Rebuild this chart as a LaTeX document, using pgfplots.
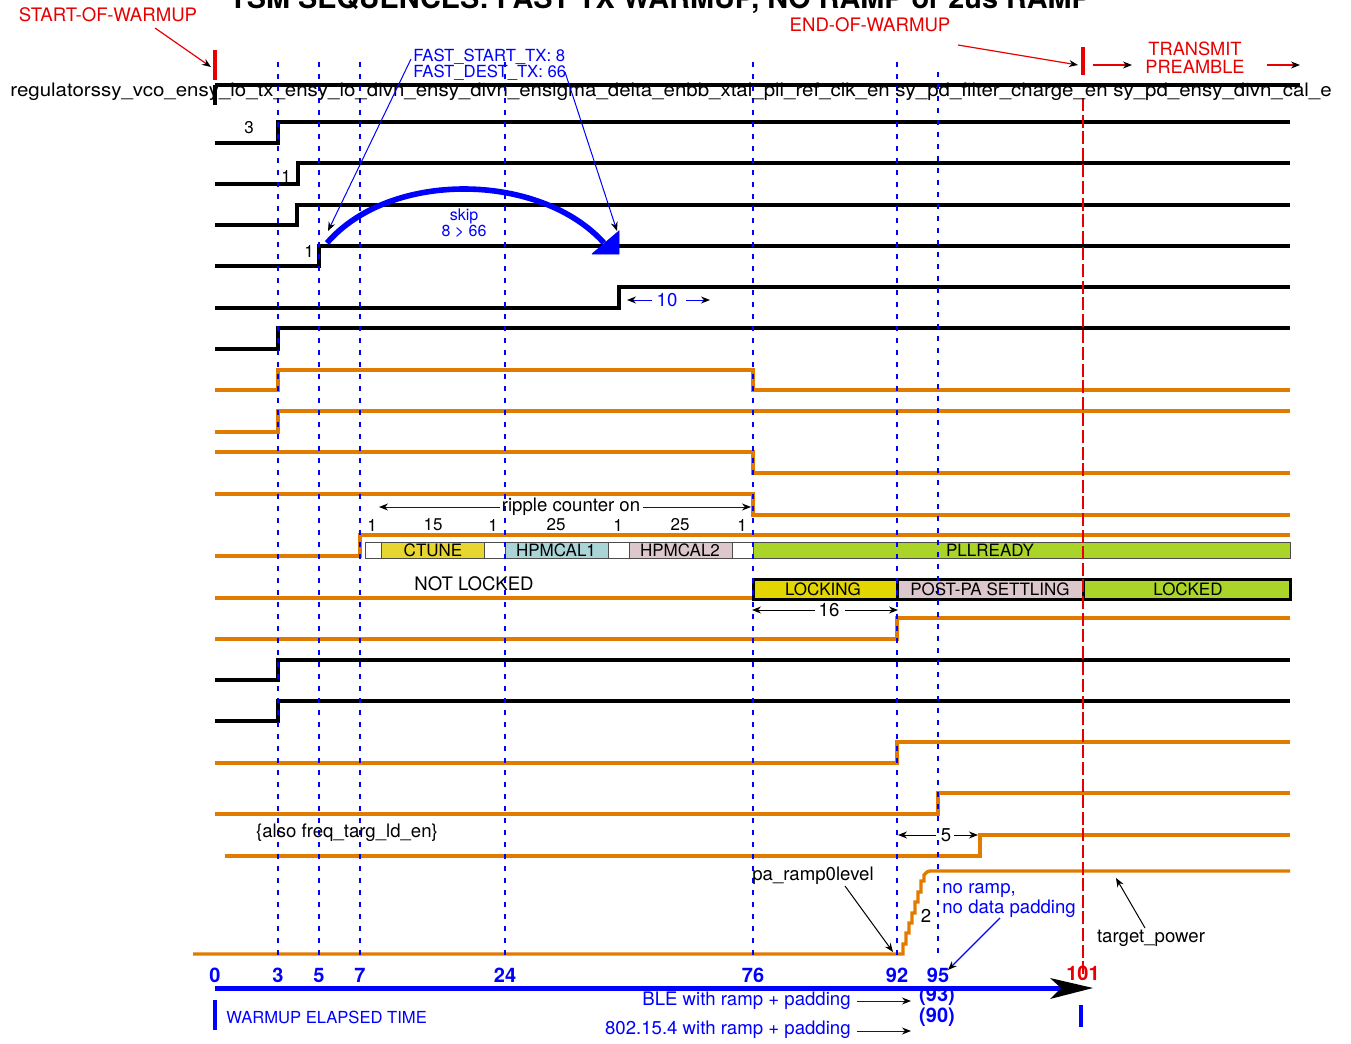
\documentclass[border=0pt]{standalone}
\usepackage{fontspec}
\setmainfont{TeX Gyre Heros}
\usepackage{pgfplots}
\pgfplotsset{compat=1.18}
\usetikzlibrary{arrows.meta}
\definecolor{sig}{RGB}{224,123,0}
\definecolor{bl}{RGB}{0,0,255}
\definecolor{rd}{RGB}{232,0,0}
\definecolor{ctune}{RGB}{232,214,48}
\definecolor{hpa}{RGB}{170,212,214}
\definecolor{hpb}{RGB}{220,200,204}
\definecolor{pll}{RGB}{170,212,40}
\definecolor{lockg}{RGB}{226,213,0}
\begin{document}
\begin{tikzpicture}[font=\fontsize{9.3pt}{11pt}\selectfont,
  ah/.style={-{Stealth[black,length=4.5pt,width=3.5pt]}},
  sm/.style={font=\fontsize{8.5pt}{10pt}\selectfont},
  tb/.style={font=\fontsize{10pt}{12pt}\selectfont\bfseries}]
\begin{axis}[scale only axis, width=675.5pt, height=522pt,
  xmin=0, xmax=1351, ymin=0, ymax=1044, y dir=reverse,
  hide axis, clip=false,
  blk/.style={black, line width=2pt},
  org/.style={sig, line width=1.7pt},
  vdot/.style={bl, line width=1.2pt, dash pattern=on 2.5pt off 3.5pt},
  bx/.style={draw=black!70, line width=0.5pt}]

% top line
\addplot[blk] coordinates {(215,85) (1300,85)};
\addplot[blk] coordinates {(215,85) (215,105)};
% black / orange signal rows
\addplot[blk] coordinates {(215,143) (278,143) (278,122) (1290,122)};
\addplot[blk] coordinates {(215,184) (298,184) (298,163) (1290,163)};
\addplot[blk] coordinates {(215,225) (297,225) (297,205) (1290,205)};
\addplot[blk] coordinates {(215,266) (319,266) (319,246) (1290,246)};
\addplot[blk] coordinates {(215,308) (619,308) (619,287) (1290,287)};
\addplot[blk] coordinates {(215,349) (278,349) (278,328) (1290,328)};
\addplot[org] coordinates {(215,390) (278,390) (278,370) (753,370) (753,390) (1290,390)};
\addplot[org] coordinates {(215,432) (278,432) (278,411) (1290,411)};
\addplot[org] coordinates {(215,452) (753,452) (753,473) (1290,473)};
\addplot[org] coordinates {(215,494) (753,494) (753,515) (1290,515)};
\addplot[org] coordinates {(215,556) (360,556) (360,535) (1290,535)};
\addplot[org] coordinates {(215,598) (753,598)};
\addplot[org] coordinates {(215,639) (897,639) (897,618) (1290,618)};
\addplot[blk] coordinates {(215,680) (278,680) (278,660) (1290,660)};
\addplot[blk] coordinates {(215,721) (278,721) (278,701) (1290,701)};
\addplot[org] coordinates {(215,763) (897,763) (897,742) (1290,742)};
\addplot[org] coordinates {(215,814) (938,814) (938,793) (1290,793)};
\addplot[org] coordinates {(225,856) (980,856) (980,835) (1290,835)};
\addplot[org] coordinates {(193,954) (903,954) (903,944) (906,944) (906,933) (909,933) (909,923) (912,923) (912,913) (915,913) (915,902) (918,902) (918,892) (921,892) (921,881) (924,881) (924,875) (927,872) (930,871) (1290,871)};

% state boxes row 1
\addplot[bx, fill=white] coordinates {(365,542) (381,542) (381,558) (365,558) (365,542)};
\addplot[bx, fill=ctune] coordinates {(381,542) (484,542) (484,558) (381,558) (381,542)};
\addplot[bx, fill=white] coordinates {(484,542) (505,542) (505,558) (484,558) (484,542)};
\addplot[bx, fill=hpa] coordinates {(505,542) (608,542) (608,558) (505,558) (505,542)};
\addplot[bx, fill=white] coordinates {(608,542) (629,542) (629,558) (608,558) (608,542)};
\addplot[bx, fill=hpb] coordinates {(629,542) (732,542) (732,558) (629,558) (629,542)};
\addplot[bx, fill=white] coordinates {(732,542) (753,542) (753,558) (732,558) (732,542)};
\addplot[bx, fill=pll] coordinates {(753,542) (1290,542) (1290,558) (753,558) (753,542)};
% state boxes row 2
\addplot[draw=black, line width=1.5pt, fill=lockg] coordinates {(753,579) (897,579) (897,599) (753,599) (753,579)};
\addplot[draw=black, line width=1.5pt, fill=hpb] coordinates {(897,579) (1083,579) (1083,599) (897,599) (897,579)};
\addplot[draw=black, line width=1.5pt, fill=pll] coordinates {(1083,579) (1290,579) (1290,599) (1083,599) (1083,579)};

% vertical markers
\addplot[vdot] coordinates {(278,62) (278,955)};
\addplot[vdot] coordinates {(319,62) (319,955)};
\addplot[vdot] coordinates {(360,62) (360,955)};
\addplot[vdot] coordinates {(505,62) (505,955)};
\addplot[vdot] coordinates {(753,62) (753,955)};
\addplot[vdot] coordinates {(897,62) (897,955)};
\addplot[vdot] coordinates {(938,72) (938,955)};
\addplot[rd, line width=1pt, dash pattern=on 6.5pt off 1.8pt] coordinates {(1083,98) (1083,975)};
\addplot[rd, line width=1.6pt] coordinates {(215,50) (215,80)};
\addplot[rd, line width=1.6pt] coordinates {(1083,47) (1083,75)};

% time axis
\addplot[bl, line width=2.5pt] coordinates {(215,988) (1062,988)};
\addplot[fill=black, draw=none] coordinates {(1093,988) (1050,978) (1061,988) (1050,999) (1093,988)};
\addplot[bl, line width=2pt] coordinates {(215,1000) (215,1030)};
\addplot[bl, line width=2pt] coordinates {(1081,1005) (1081,1027)};

% texts
\node[anchor=base, font=\fontsize{14.4pt}{16pt}\selectfont\bfseries] at (660,9) {TSM SEQUENCES: FAST TX WARMUP, NO RAMP or 2us RAMP};
\node[anchor=west, inner sep=0pt] at (10,92) {\scalebox{1.1}[1]{regulatorssy\_vco\_ensy\_lo\_tx\_ensy\_lo\_divn\_ensy\_divn\_ensigma\_delta\_enbb\_xtal\_pll\_ref\_clk\_en sy\_pd\_filter\_charge\_en sy\_pd\_ensy\_divn\_cal\_e}};
\node[rd] at (108,15) {START-OF-WARMUP};
\draw[rd, line width=0.6pt, ah] (155,28) -- (211,67);
\node[rd] at (870,25) {END-OF-WARMUP};
\draw[rd, line width=0.6pt, ah] (958,45) -- (1078,65);
\node[rd, align=center, inner sep=0pt, font=\fontsize{9.1pt}{9pt}\selectfont] at (1195,58) {TRANSMIT\\PREAMBLE};
\draw[rd, line width=0.6pt, ah] (1093,65) -- (1132,65);
\draw[rd, line width=0.6pt, ah] (1267,65) -- (1300,65);
\node[bl, anchor=west, inner sep=0pt, align=left, font=\fontsize{8.35pt}{8pt}\selectfont] at (413,65) {FAST\_START\_TX: 8\\FAST\_DEST\_TX: 66};
\draw[bl, line width=0.5pt, ah] (411,59) -- (328,231);
\draw[bl, line width=0.5pt, ah] (565,72) -- (617,231);
\draw[bl, line width=2.8pt] (327,243) .. controls (390,170) and (540,172) .. (604,243);
\addplot[fill=bl, draw=bl] coordinates {(592,254) (619,231) (619,254) (592,254)};
\node[bl, align=center, inner sep=0pt, font=\fontsize{8pt}{8pt}\selectfont] at (464,223) {skip\\8 > 66};
\node[sm] at (249,128) {3};
\node[sm] at (286,176) {1};
\node[sm] at (309,251) {1};
\draw[bl, line width=0.5pt, ah] (652,300) -- (627,300);
\draw[bl, line width=0.5pt, ah] (686,300) -- (710,300);
\node[bl] at (667,300) {10};
\draw[bl, line width=0.5pt, ah] (500,507) -- (379,507);
\draw[bl, line width=0.5pt, ah] (643,507) -- (751,507);
\node at (571,507) {ripple counter on};
\node[sm] at (372,525) {1};
\node[sm] at (433,525) {15};
\node[sm] at (493,525) {1};
\node[sm] at (556,525) {25};
\node[sm] at (618,525) {1};
\node[sm] at (680,525) {25};
\node[sm] at (742,525) {1};
\node[sm] at (433,550) {CTUNE};
\node[sm] at (556,550) {HPMCAL1};
\node[sm] at (680,550) {HPMCAL2};
\node[sm] at (990,550) {PLLREADY};
\node at (474,584) {NOT LOCKED};
\node[sm] at (823,589) {LOCKING};
\node[sm] at (990,589) {POST-PA SETTLING};
\node[sm] at (1188,589) {LOCKED};
\draw[black, line width=0.5pt, ah] (815,610) -- (752,610);
\draw[black, line width=0.5pt, ah] (845,610) -- (898,610);
\node at (829,610) {16};
\node at (347,833) {\{also freq\_targ\_ld\_en\}};
\draw[black, line width=0.5pt, ah] (936,835) -- (898,835);
\draw[black, line width=0.5pt, ah] (954,835) -- (978,835);
\node at (946,835) {5};
\node at (813,876) {pa\_ramp0level};
\draw[black, line width=0.5pt, ah] (845,886) -- (893,952);
\node at (926,916) {2};
\node[bl, anchor=west, align=left, inner sep=0pt, font=\fontsize{9.3pt}{10pt}\selectfont] at (942,901) {no ramp,\\no data padding};
\draw[bl, line width=0.6pt, ah] (1000,918) -- (948,970);
\node at (1151,938) {target\_power};
\draw[black, line width=0.5pt, ah] (1145,928) -- (1116,878);

% time labels
\node[bl, tb] at (215,975) {0};
\node[bl, tb] at (278,975) {3};
\node[bl, tb] at (319,975) {5};
\node[bl, tb] at (360,975) {7};
\node[bl, tb] at (505,975) {24};
\node[bl, tb] at (753,975) {76};
\node[bl, tb] at (897,975) {92};
\node[bl, tb] at (938,975) {95};
\node[rd, tb] at (1083,973) {101};
\node[bl, tb] at (937,996) {(93)};
\node[bl, tb] at (937,1017) {(90)};
\node[bl, anchor=west, inner sep=0pt, font=\fontsize{8.3pt}{10pt}\selectfont] at (226,1017) {WARMUP ELAPSED TIME};
\node[bl, anchor=east, inner sep=0pt] at (851,1001) {BLE with ramp + padding};
\node[bl, anchor=east, inner sep=0pt] at (851,1030) {802.15.4 with ramp + padding};
\draw[bl, line width=0.5pt, ah] (857,1001) -- (911,1001);
\draw[bl, line width=0.5pt, ah] (857,1031) -- (911,1031);
\end{axis}
\pgfresetboundingbox
\useasboundingbox (0,0) rectangle (675.5pt,522pt);
\end{tikzpicture}
\end{document}
